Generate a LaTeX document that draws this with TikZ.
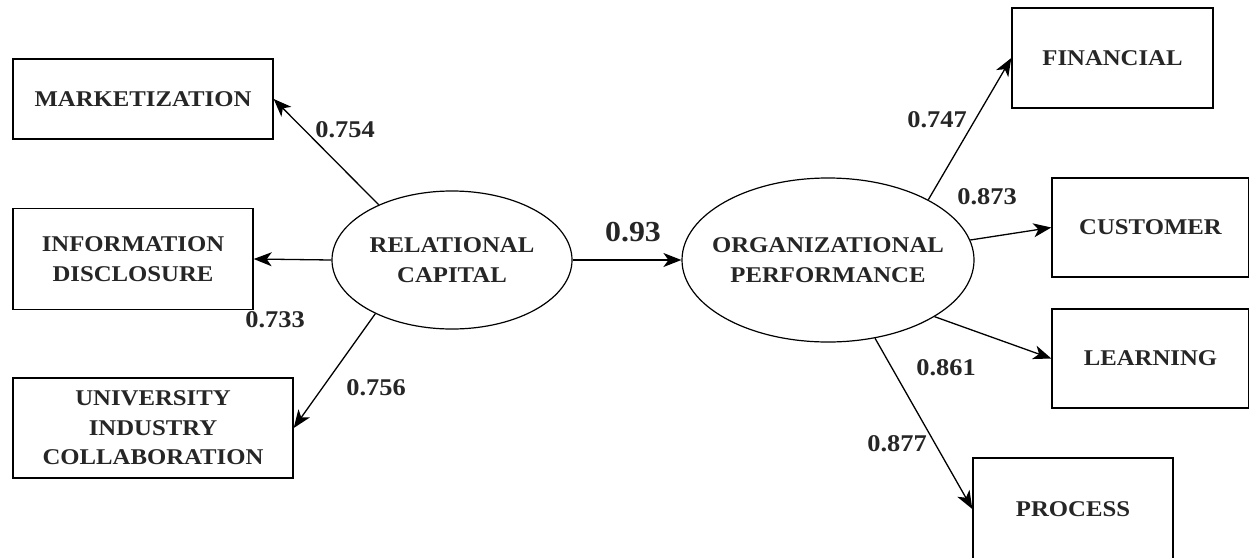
\documentclass[tikz,border=0pt]{standalone}
\usepackage{fontspec}
\setmainfont{Liberation Serif}[FakeStretch=1.1]
\usetikzlibrary{shapes.geometric,arrows.meta}
\begin{document}
\begin{tikzpicture}[x=1pt,y=-1pt,
  txt/.style={font=\bfseries\fontsize{22.5}{29.5}\selectfont, text=black!85},
  obs/.style={draw, line width=1.4pt, rectangle, inner sep=0pt, txt, align=center},
  lat/.style={draw, line width=1.2pt, ellipse, inner sep=0pt},
  arr/.style={line width=1.3pt, -{Stealth[length=18pt,width=14pt,inset=5pt]}},
  lbl/.style={font=\bfseries\fontsize{24}{26}\selectfont, text=black!85, inner sep=0pt}]
\useasboundingbox (0,0) rectangle (1249,557);
\clip (0,0) rectangle (1249,557);
\fill[white] (0,0) rectangle (1249,557);
% observed boxes
\node[obs, minimum width=260pt, minimum height=80pt] (mkt) at (143,99) {MARKETIZATION};
\node[obs, minimum width=240pt, minimum height=101pt] (info) at (133,259) {INFORMATION\\DISCLOSURE};
\node[obs, minimum width=280pt, minimum height=100pt] (univ) at (153,428) {UNIVERSITY\\INDUSTRY\\COLLABORATION};
\node[obs, minimum width=201pt, minimum height=100pt] (fin) at (1112.5,58) {FINANCIAL};
\node[obs, minimum width=197pt, minimum height=99pt] (cust) at (1150.5,227.5) {CUSTOMER};
\node[obs, minimum width=197pt, minimum height=99pt] (learn) at (1150.5,358.5) {LEARNING};
\node[obs, minimum width=200pt, minimum height=102pt] (proc) at (1073,509) {PROCESS};
% latent ellipses
\node[lat, minimum width=240pt, minimum height=138pt] (rc) at (452,260) {};
\node[txt, align=center] (rct) at (rc.center) {RELATIONAL\\CAPITAL};
\node[lat, minimum width=292pt, minimum height=164pt] (op) at (828,260) {};
\node[txt, align=center] (opt) at (op.center) {ORGANIZATIONAL\\PERFORMANCE};
% connectors
\draw[arr] (rc.143) -- (mkt.east);
\draw[arr] (rc.west) -- (info.east);
\draw[arr] (rc.215) -- (univ.east);
\draw[arr] (rc.east) -- (op.west);
\draw[arr] (op.31) -- (fin.west);
\draw[arr] (op.8) -- (cust.west);
\draw[arr] (op.-28) -- (learn.west);
\draw[arr] (op.-59) -- (proc.west);
% labels
\node[lbl] (l1) at (345,130) {0.754};
\node[lbl] (l2) at (275,320) {0.733};
\node[lbl] (l3) at (376,388) {0.756};
\node[lbl, font=\bfseries\fontsize{29}{31}\selectfont] (l4) at (633,232) {0.93};
\node[lbl] (l5) at (937,120) {0.747};
\node[lbl] (l6) at (987,197) {0.873};
\node[lbl] (l7) at (946,368) {0.861};
\node[lbl] (l8) at (897,444) {0.877};
\end{tikzpicture}
\end{document}
